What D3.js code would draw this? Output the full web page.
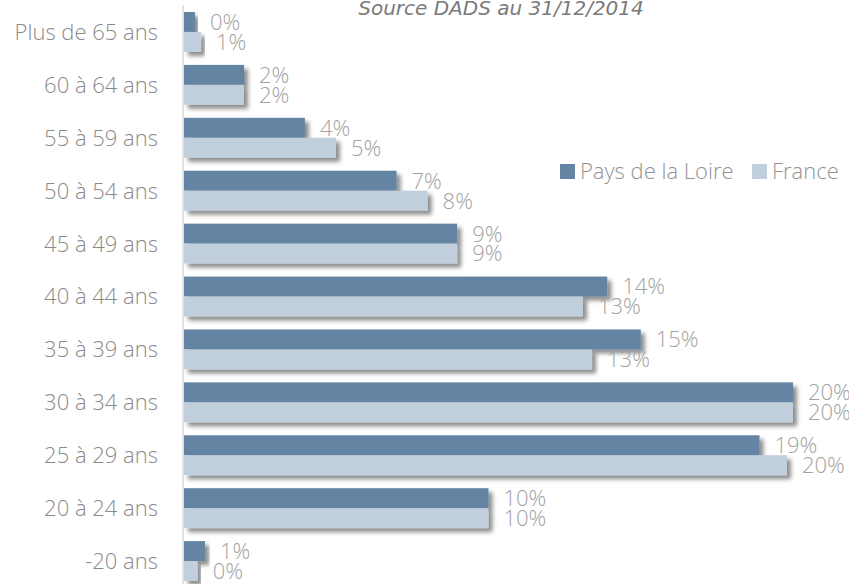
<!DOCTYPE html>
<html>
<head>
<meta charset="utf-8">
<script src="https://cdn.jsdelivr.net/npm/d3@7"></script>
<style>
  html, body { margin: 0; padding: 0; background: #ffffff; }
  svg { display: block; }
</style>
</head>
<body>
<svg id="chart" width="849" height="584"></svg>
<script>
const categories = ["Plus de 65 ans", "60 à 64 ans", "55 à 59 ans", "50 à 54 ans", "45 à 49 ans",
  "40 à 44 ans", "35 à 39 ans", "30 à 34 ans", "25 à 29 ans", "20 à 24 ans", "-20 ans"];
const seriesNames = ["Pays de la Loire", "France"];
const paysDeLaLoire = [0.0036, 0.0197, 0.0397, 0.0698, 0.0897, 0.139, 0.150, 0.200, 0.189, 0.100, 0.0069];
const france        = [0.0056, 0.0197, 0.0499, 0.0800, 0.0897, 0.131, 0.134, 0.200, 0.198, 0.100, 0.0045];
const sourceText = "Source DADS au 31/12/2014";

const colors = ["#6484a3", "#c1cfdc"];
const W = 849, H = 584;
const svg = d3.select("#chart");

const defs = svg.append("defs");
const f = defs.append("filter").attr("id", "shadow")
  .attr("x", "-10%").attr("y", "-30%").attr("width", "130%").attr("height", "180%");
f.append("feDropShadow").attr("dx", 4).attr("dy", 4).attr("stdDeviation", 2.2)
  .attr("flood-color", "#000").attr("flood-opacity", 0.45);

const x = d3.scaleLinear().domain([0, 0.20]).range([184, 793]);
const y = d3.scaleBand().domain(categories).range([5.5, 587.5]).paddingInner(0.246).paddingOuter(0.123);
const ySub = d3.scaleBand().domain(seriesNames).range([0, y.bandwidth()]);

// vertical axis line
svg.append("line")
  .attr("x1", 183).attr("x2", 183)
  .attr("y1", 5).attr("y2", H)
  .attr("stroke", "#d9d9d9").attr("stroke-width", 1.5);

const series = [paysDeLaLoire, france];
const fmt = d3.format(".0%");

series.forEach((vals, si) => {
  const g = svg.append("g");
  g.selectAll("rect").data(vals).join("rect")
    .attr("x", x(0))
    .attr("y", (d, i) => y(categories[i]) + ySub(seriesNames[si]))
    .attr("width", d => x(d) - x(0))
    .attr("height", ySub.bandwidth())
    .attr("fill", colors[si])
    .attr("filter", "url(#shadow)");
});

series.forEach((vals, si) => {
  svg.append("g").selectAll("text").data(vals).join("text")
    .attr("x", d => x(d) + 15)
    .attr("y", (d, i) => y(categories[i]) + ySub(seriesNames[si]) + ySub.bandwidth() / 2)
    .attr("dy", "0.36em")
    .attr("font-family", "'Open Sans', sans-serif")
    .attr("font-weight", 300)
    .attr("font-size", 22)
    .attr("fill", "#a2a2a2")
    .text(d => fmt(d));
});

// category labels
const yAxis = d3.axisLeft(y).tickSize(0).tickPadding(0);
const ag = svg.append("g").attr("transform", "translate(158,0)").call(yAxis);
ag.select(".domain").remove();
ag.selectAll("text")
  .attr("font-family", "'Open Sans', sans-serif")
  .attr("font-weight", 300)
  .attr("font-size", 22)
  .attr("fill", "#8a8a8a")
  .attr("dy", "0.36em");

// legend
const legend = svg.append("g");
const legendItems = [{ name: seriesNames[0], x: 560 }, { name: seriesNames[1], x: 752 }];
legendItems.forEach((it, i) => {
  legend.append("rect").attr("x", it.x).attr("y", 164).attr("width", 15).attr("height", 15).attr("fill", colors[i]);
  legend.append("text").attr("x", it.x + 20).attr("y", 179)
    .attr("font-family", "'Open Sans', sans-serif").attr("font-weight", 300)
    .attr("font-size", 22).attr("fill", "#929292").text(it.name);
});

// source
svg.append("text").attr("x", 501).attr("y", 15).attr("text-anchor", "middle")
  .attr("font-family", "'DejaVu Sans', sans-serif").attr("font-style", "italic")
  .attr("font-size", 20).attr("fill", "#7a7a7a").text(sourceText);
</script>
</body>
</html>
